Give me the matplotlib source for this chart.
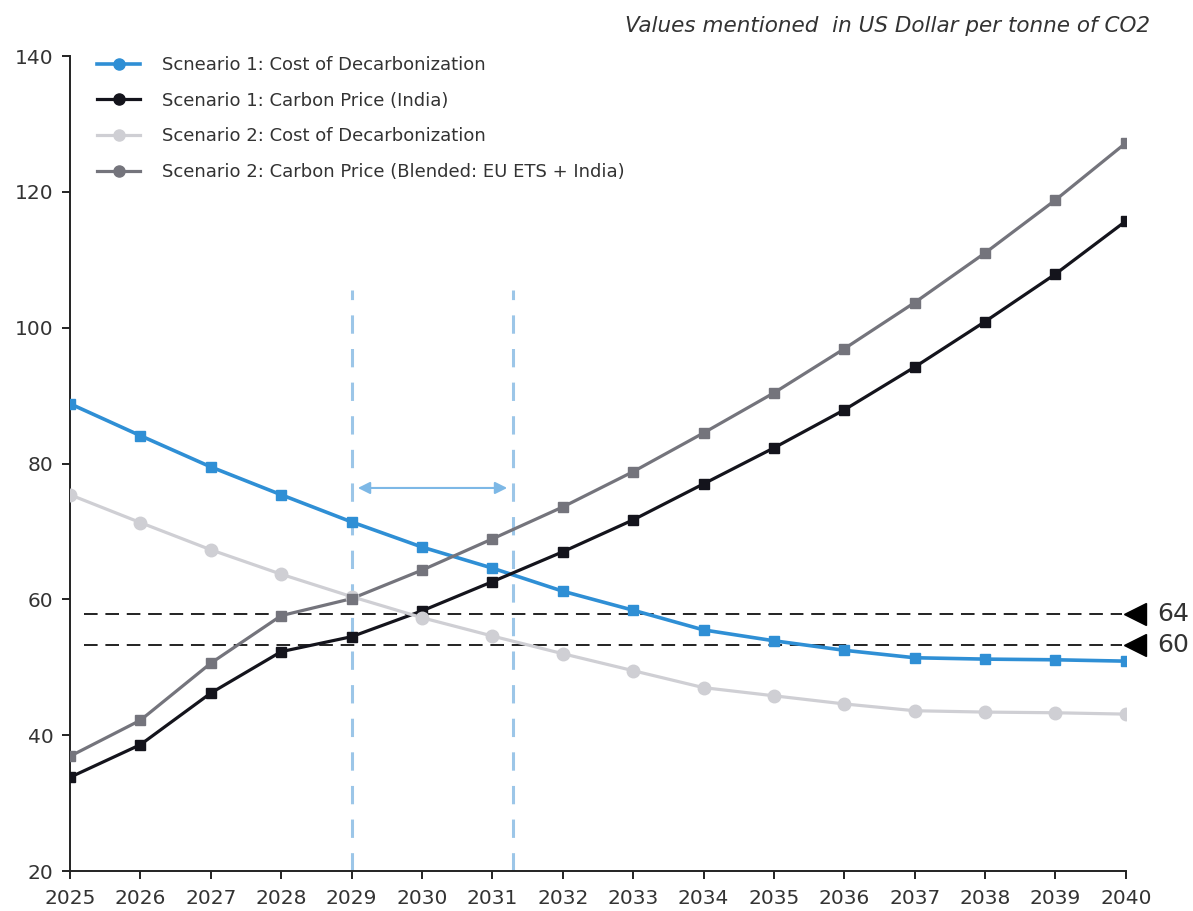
import numpy as np
import matplotlib.pyplot as plt

years = np.arange(2025, 2041)

s1_cost = [88.8, 84.1, 79.5, 75.4, 71.4, 67.7, 64.6, 61.2,
           58.4, 55.5, 53.9, 52.5, 51.4, 51.2, 51.1, 50.9]
s1_price = [33.8, 38.6, 46.2, 52.3, 54.5, 58.3, 62.6, 67.0,
            71.7, 77.0, 82.3, 87.9, 94.2, 100.9, 107.9, 115.7]
s2_cost = [75.4, 71.3, 67.3, 63.7, 60.4, 57.3, 54.6, 52.0,
           49.5, 47.0, 45.8, 44.6, 43.6, 43.4, 43.3, 43.1]
s2_price = [36.9, 42.2, 50.6, 57.6, 60.1, 64.3, 68.9, 73.6,
            78.8, 84.5, 90.4, 96.9, 103.7, 111.0, 118.8, 127.2]

labels = ["Scneario 1: Cost of Decarbonization",
          "Scenario 1: Carbon Price (India)",
          "Scenario 2: Cost of Decarbonization",
          "Scenario 2: Carbon Price (Blended: EU ETS + India)"]

# breakeven levels marked on the right
levels = [57.8, 53.3]
level_labels = ["64", "60"]
window = [2029, 2031.3]
window_top = 105.6
arrow_y = 76.4

fig = plt.figure(figsize=(11.93, 9.11), dpi=100)
ax = fig.add_axes([0.0587, 0.0439, 0.8850, 0.8946])

series = [
    (s1_cost, "#2f8fd5", 2.6),
    (s1_price, "#14141c", 2.3),
    (s2_cost, "#cfcfd4", 2.3),
    (s2_price, "#74747c", 2.3),
]
for (vals, col, lw), lab in zip(series, labels):
    ax.plot(years, vals, color=col, lw=lw, zorder=3)
    ax.plot(years, vals, ls="none", marker="s" if col != "#cfcfd4" else "o",
            ms=7 if col != "#cfcfd4" else 9, color=col, zorder=4)
    ax.plot([], [], color=col, lw=lw, marker="o", ms=8, label=lab)

for lv, txt in zip(levels, level_labels):
    ax.plot([2025.2, 2039.95], [lv, lv], color="#222222", lw=1.4,
            dashes=(7, 4), zorder=2)
    ax.plot([2040.13], [lv], marker="<", ms=16, color="black", clip_on=False)
    ax.text(2040.45, lv, txt, fontsize=18, color="#333333", va="center",
            ha="left", clip_on=False)

for x in window:
    ax.plot([x, x], [20, window_top], color="#9cc6e8", lw=2.2, dashes=(6, 5),
            zorder=1)
ax.annotate("", xy=(window[1] - 0.05, arrow_y), xytext=(window[0] + 0.05, arrow_y),
            arrowprops=dict(arrowstyle="<|-|>", color="#7db8e6", lw=1.5,
                            mutation_scale=18))

ax.set_xlim(2025, 2040)
ax.set_ylim(20, 140)
ax.set_xticks(years)
ax.set_yticks(range(20, 141, 20))
for s in ["top", "right"]:
    ax.spines[s].set_visible(False)
for s in ["left", "bottom"]:
    ax.spines[s].set_linewidth(1.4)
    ax.spines[s].set_color("#222222")
ax.tick_params(axis="both", length=6, width=1.4, color="#222222",
               labelsize=14.5, labelcolor="#333333")
ax.tick_params(axis="y", pad=6)
ax.tick_params(axis="x", pad=7)

ax.legend(loc="upper left", bbox_to_anchor=(0.01, 1.02), frameon=False,
          fontsize=13, labelcolor="#333333", handlelength=2.4,
          labelspacing=0.98, handletextpad=1.2)

fig.text(0.964, 0.972, "Values mentioned  in US Dollar per tonne of CO2",
         ha="right", va="center", fontsize=15.5, style="italic",
         color="#333333")

fig.savefig("out.png", dpi=100)
